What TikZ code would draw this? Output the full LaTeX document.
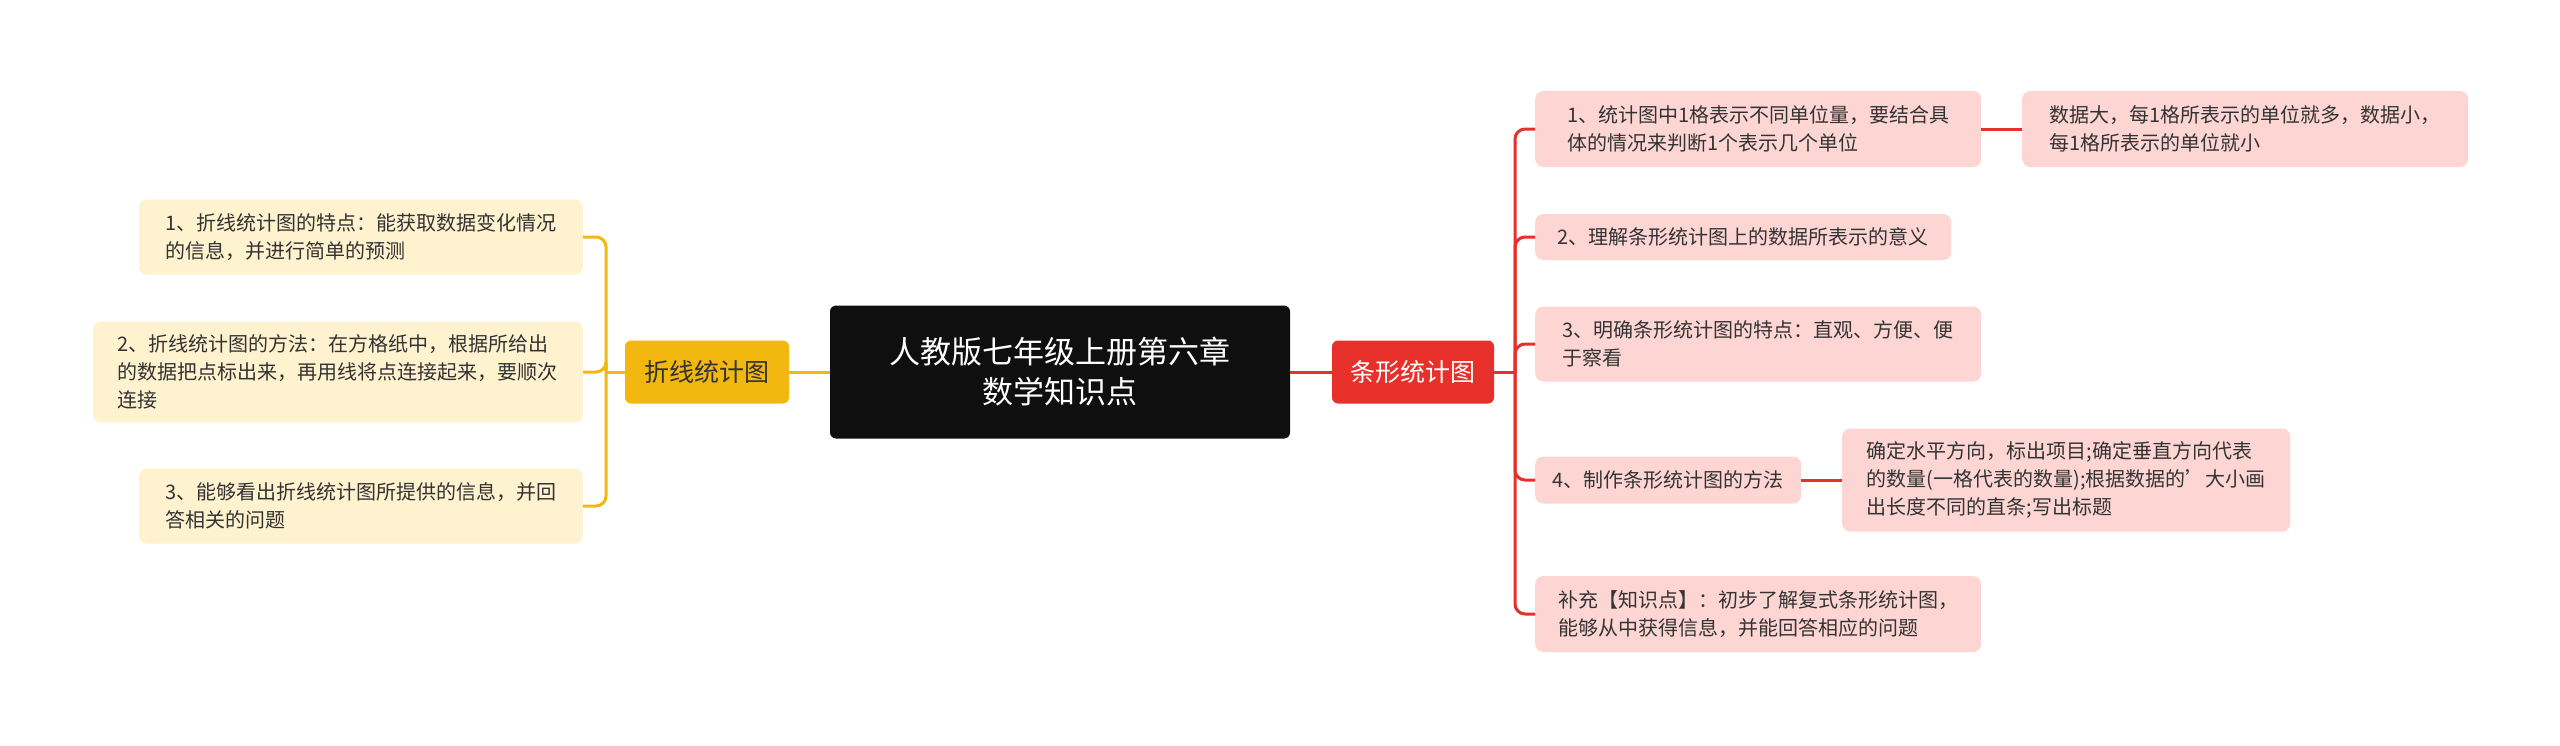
\documentclass[tikz,border=0pt]{standalone}
\usepackage{fontspec}
\setmainfont{Noto Sans CJK SC}
\usetikzlibrary{positioning}
\definecolor{rootbg}{HTML}{0F0F0F}
\definecolor{ymain}{HTML}{F2B80F}
\definecolor{yleaf}{HTML}{FEF2CF}
\definecolor{rmain}{HTML}{E8302A}
\definecolor{rleaf}{HTML}{FDD6D4}
\definecolor{leaftext}{HTML}{333333}
\tikzset{
  rootbox/.style={rectangle, fill=rootbg, rounded corners=6pt, text=white, font=\fontsize{31}{40}\selectfont, align=center, minimum width=460pt, minimum height=133pt},
  ybox/.style={rectangle, fill=ymain, rounded corners=6pt, text=leaftext, font=\fontsize{25}{30}\selectfont, minimum width=164pt, minimum height=63pt},
  rbox/.style={rectangle, fill=rmain, rounded corners=6pt, text=white, font=\fontsize{25}{30}\selectfont, minimum width=162pt, minimum height=63pt},
  yleafbox/.style={rectangle, fill=yleaf, rounded corners=8pt, text=leaftext, font=\fontsize{20}{28}\selectfont, align=left, inner xsep=10pt, inner ysep=8pt},
  rleafbox/.style={rectangle, fill=rleaf, rounded corners=8pt, text=leaftext, font=\fontsize{20}{28}\selectfont, align=left, inner xsep=10pt, inner ysep=8pt},
  yline/.style={draw=ymain, line width=3pt, rounded corners=10pt},
  rline/.style={draw=rmain, line width=3pt, rounded corners=10pt}
}
\begin{document}
\begin{tikzpicture}[x=1pt, y=-1pt]
    \useasboundingbox (0,0) rectangle (2560,745);
    % Nodes
    \node (root) [rootbox] at (1060,372) {人教版七年级上册第六章\\数学知识点};

    \node (line) [ybox] at (707,372) {折线统计图};
    \node (bar) [rbox] at (1413,372) {条形统计图};

    \node (line1) [yleafbox, anchor=east, minimum width=444pt, minimum height=75pt] at (583,237) {1、折线统计图的特点：能获取数据变化情况\\的信息，并进行简单的预测};
    \node (line2) [yleafbox, anchor=east, minimum width=490pt, minimum height=101pt] at (583,372) {2、折线统计图的方法：在方格纸中，根据所给出\\的数据把点标出来，再用线将点连接起来，要顺次\\连接};
    \node (line3) [yleafbox, anchor=east, minimum width=444pt, minimum height=75pt] at (583,506) {3、能够看出折线统计图所提供的信息，并回\\答相关的问题};

    \node (bar1) [rleafbox, anchor=west, minimum width=446pt, minimum height=76pt] at (1535,129) {1、统计图中1格表示不同单位量，要结合具\\体的情况来判断1个表示几个单位};
    \node (bar1a) [rleafbox, anchor=west, minimum width=446pt, minimum height=76pt] at (2022,129) {数据大，每1格所表示的单位就多，数据小，\\每1格所表示的单位就小};
    \node (bar2) [rleafbox, anchor=west, minimum width=416pt, minimum height=46pt] at (1535,237) {2、理解条形统计图上的数据所表示的意义};
    \node (bar3) [rleafbox, anchor=west, minimum width=446pt, minimum height=75pt] at (1535,344) {3、明确条形统计图的特点：直观、方便、便\\于察看};
    \node (bar4) [rleafbox, anchor=west, minimum width=266pt, minimum height=47pt] at (1535,480) {4、制作条形统计图的方法};
    \node (bar4a) [rleafbox, anchor=west, minimum width=448pt, minimum height=103pt] at (1842,480) {确定水平方向，标出项目;确定垂直方向代表\\的数量(一格代表的数量);根据数据的'大小画\\出长度不同的直条;写出标题};
    \node (bar5) [rleafbox, anchor=west, minimum width=446pt, minimum height=76pt] at (1535,614) {补充【知识点】：初步了解复式条形统计图，\\能够从中获得信息，并能回答相应的问题};

    \coordinate (ljoin) at (606,372);
    \coordinate (rjoin) at (1515,372);

    % Edges
    \draw[yline] (root.west) -- (line.east);
    \draw[rline] (root.east) -- (bar.west);
    \draw[yline] (line.west) -- (ljoin);
    \foreach \n in {line1,line2,line3}
        \draw[yline] (ljoin) |- (\n.east);
    \draw[rline] (bar.east) -- (rjoin);
    \foreach \n in {bar1,bar2,bar3,bar4,bar5}
        \draw[rline] (rjoin) |- (\n.west);
    \draw[rline] (bar1.east) -- (bar1a.west);
    \draw[rline] (bar4.east) -- (bar4a.west);
\end{tikzpicture}
\end{document}
